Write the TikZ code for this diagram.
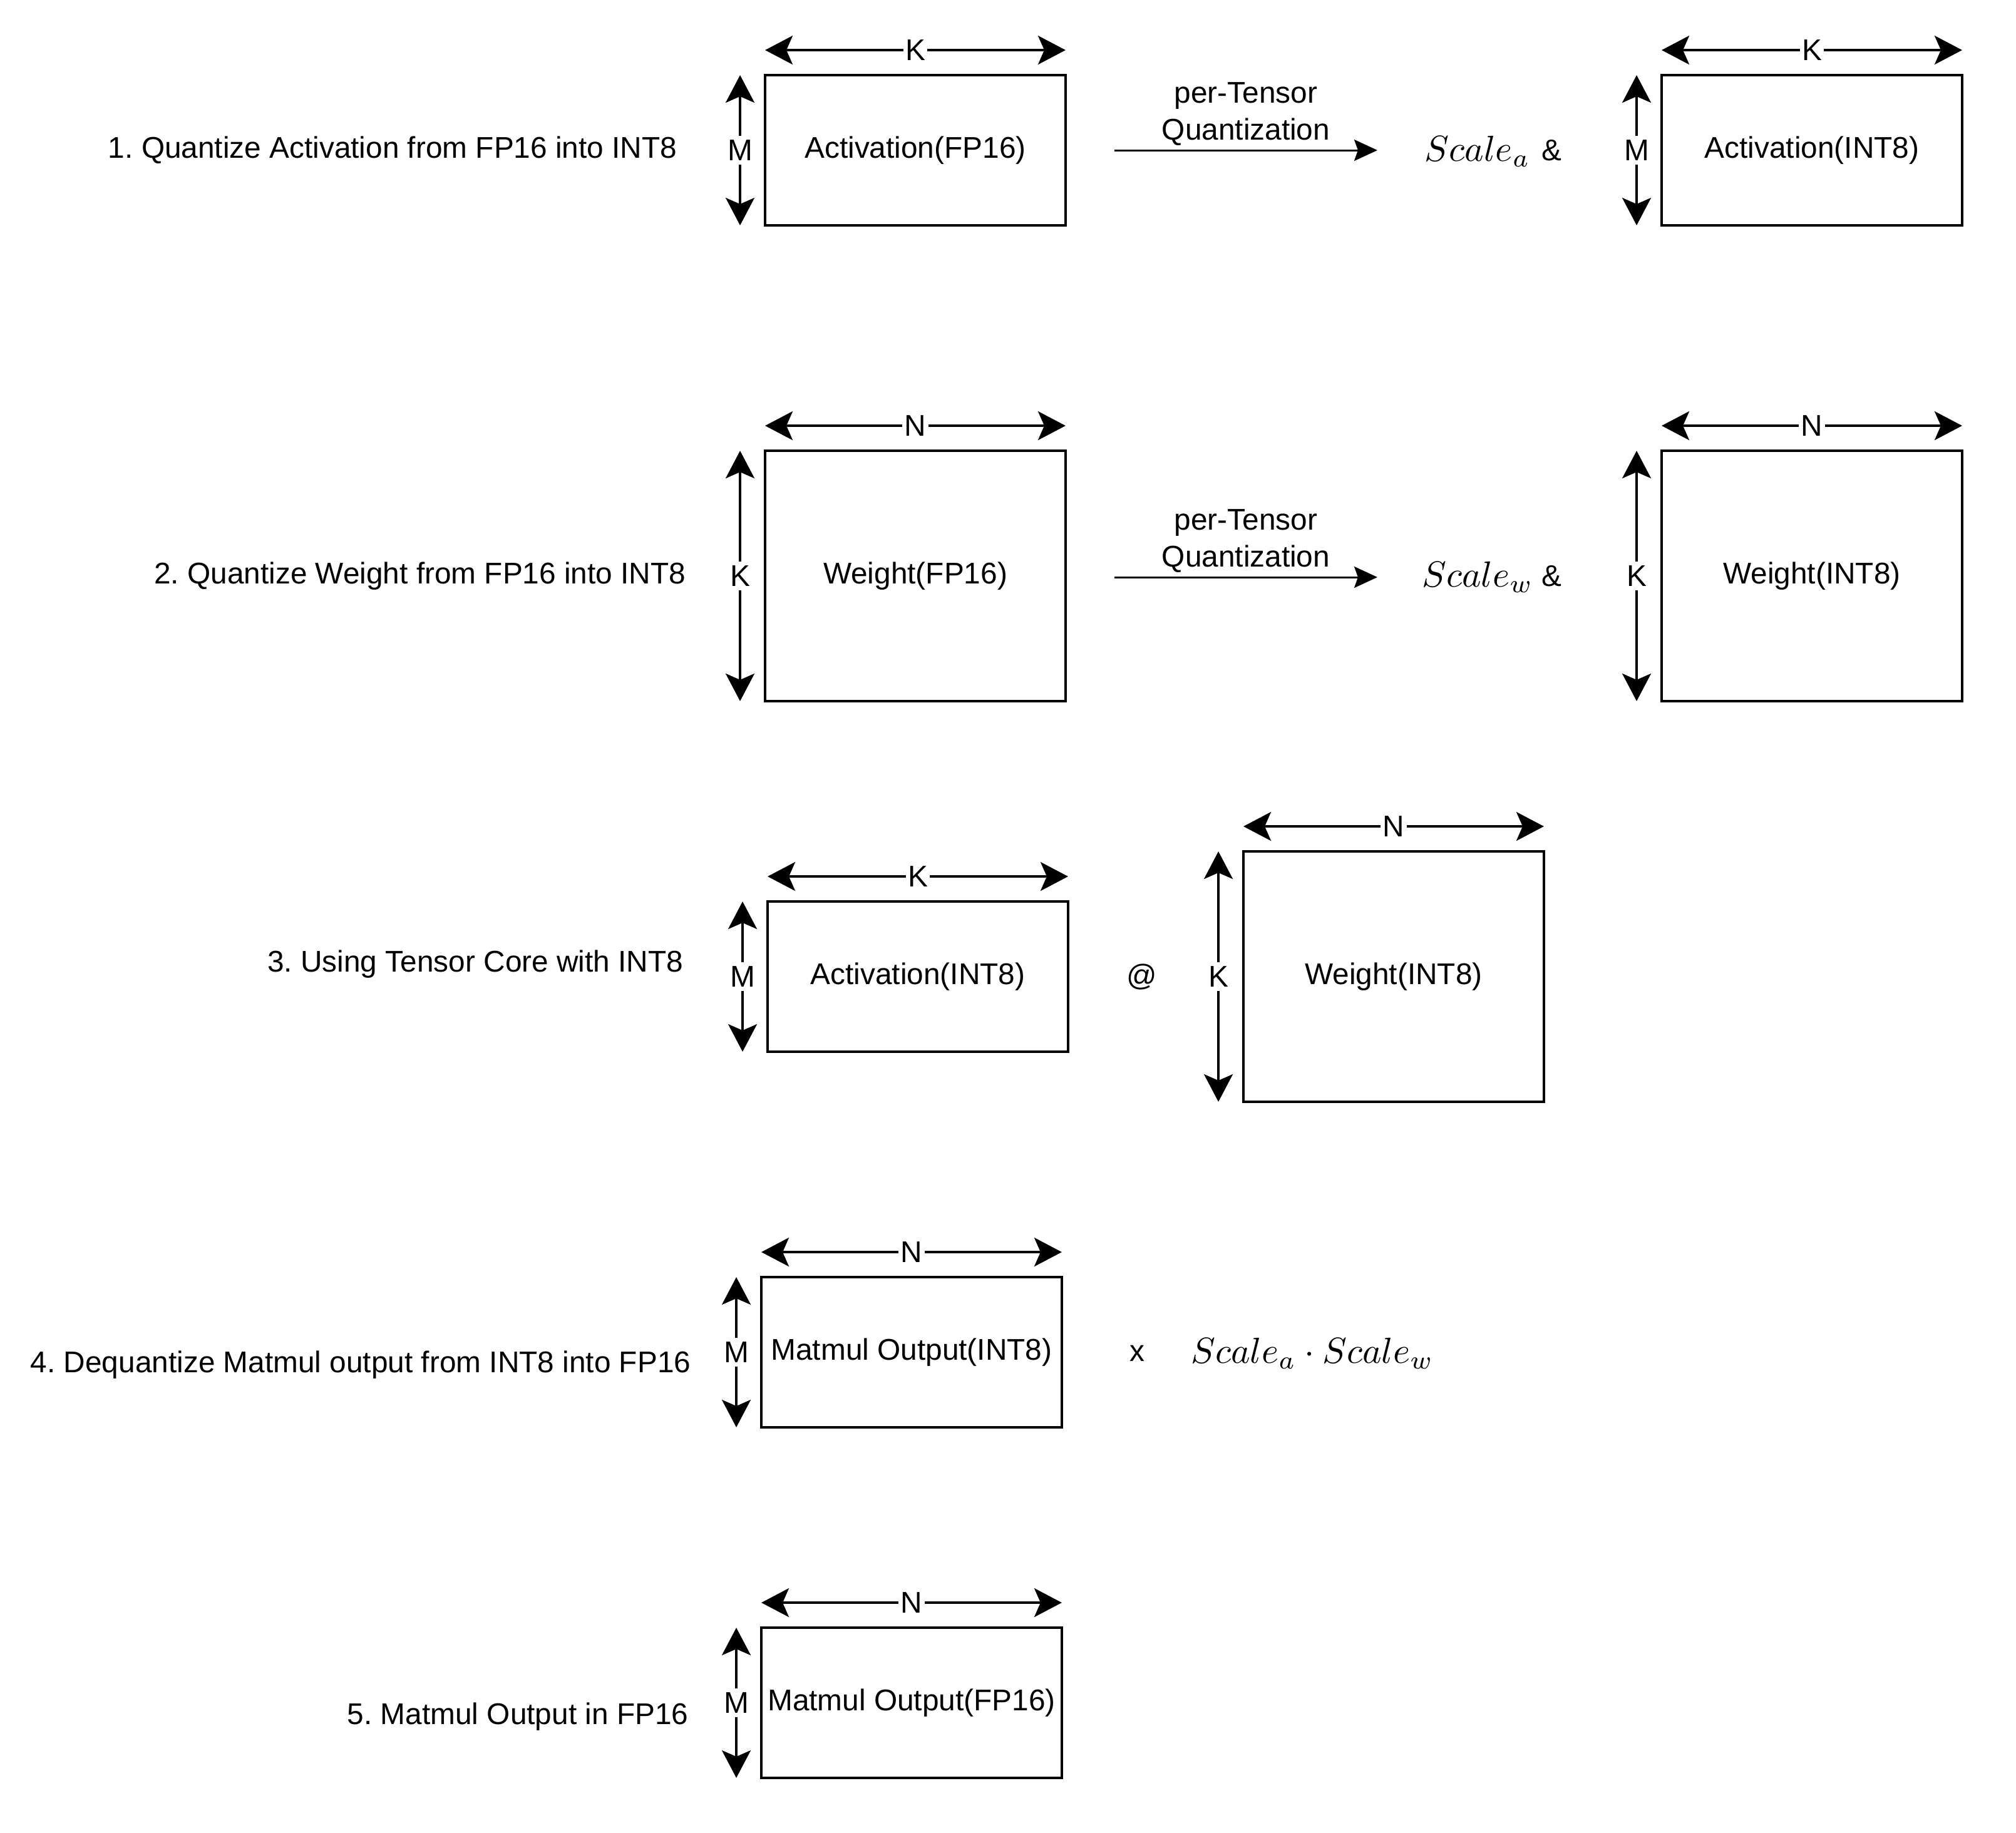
\documentclass[tikz,border=0pt]{standalone}
\usepackage{fontspec}
\setmainfont{Liberation Sans}
\usetikzlibrary{arrows.meta}
\frenchspacing
\newcommand{\bigmath}[1]{\scalebox{1.65}{$#1$}}
\begin{document}
\begin{tikzpicture}[x=0.02cm,y=-0.02cm,
  every node/.style={font=\fontsize{13.6}{17}\selectfont},
  mat/.style={draw,line width=0.035cm,minimum width=4.8cm,inner sep=0pt,outer sep=0pt},
  dimarr/.style={line width=0.035cm,{Stealth[length=0.44cm,width=0.46cm,inset=0.1cm]}-{Stealth[length=0.44cm,width=0.46cm,inset=0.1cm]}},
  dimlab/.style={fill=white,inner xsep=1pt,inner ysep=2pt},
  qarr/.style={line width=0.03cm,-{Stealth[length=0.37cm,width=0.34cm,inset=0.06cm]}},
  steplab/.style={anchor=east,inner sep=0pt},
  mathlab/.style={font=\fontsize{10}{12}\selectfont,inner sep=0pt}
]
\useasboundingbox (0,0) rectangle (1610,1464);

% step labels
\node[steplab] (l1) at (541,120) {1. Quantize Activation from FP16 into INT8};
\node[steplab] (l2) at (548,460) {2. Quantize Weight from FP16 into INT8};
\node[steplab] (l3) at (546,770) {3. Using Tensor Core with INT8};
\node[steplab] (l4) at (552,1090) {4. Dequantize Matmul output from INT8 into FP16};
\node[steplab] (l5) at (550,1371) {5. Matmul Output in FP16};

% matrices
\node[mat,minimum height=2.4cm] (a1) at (731,120) {Activation(FP16)};
\node[mat,minimum height=2.4cm] (a1q) at (1447,120) {Activation(INT8)};
\node[mat,minimum height=4cm] (w1) at (731,460) {Weight(FP16)};
\node[mat,minimum height=4cm] (w1q) at (1447,460) {Weight(INT8)};
\node[mat,minimum height=2.4cm] (a3) at (733,780) {Activation(INT8)};
\node[mat,minimum height=4cm] (w3) at (1113,780) {Weight(INT8)};
\node[mat,minimum height=2.4cm] (m4) at (728,1080) {Matmul Output(INT8)};
\node[mat,minimum height=2.4cm] (m5) at (728,1360) {Matmul Output(FP16)};

% dimension arrows
\foreach \b/\h/\v in {a1/K/M, a1q/K/M, w1/N/K, w1q/N/K, a3/K/M, w3/N/K, m4/N/M, m5/N/M}{
  \draw[dimarr] ([yshift=0.4cm]\b.north west) -- ([yshift=0.4cm]\b.north east) node[midway,dimlab]{\h};
  \draw[dimarr] ([xshift=-0.4cm]\b.north west) -- ([xshift=-0.4cm]\b.south west) node[midway,dimlab]{\v};
}

% quantization arrows
\coordinate (q1e) at (1100,120);
\coordinate (q2e) at (1100,461);
\draw[qarr] ([xshift=0.78cm]a1.east) -- (q1e) node[midway,yshift=0.58cm,align=center] (t1) {per-Tensor\\Quantization};
\draw[qarr] ([xshift=0.78cm,yshift=-0.02cm]w1.east) -- (q2e) node[midway,yshift=0.58cm,align=center] (t2) {per-Tensor\\Quantization};

% scales and operators
\node[mathlab] (sa) at (1180,121) {\bigmath{Scale_a}};
\node (amp1) at (1239,120) {\&};
\node[mathlab] (sw) at (1180,461) {\bigmath{Scale_w}};
\node (amp2) at (1239,460) {\&};
\node (atop) at (912,780) {@};
\node (times) at (908,1081) {x};
\node[mathlab] (sprod) at (1048,1081) {\bigmath{Scale_a\cdot Scale_w}};
\end{tikzpicture}
\end{document}
